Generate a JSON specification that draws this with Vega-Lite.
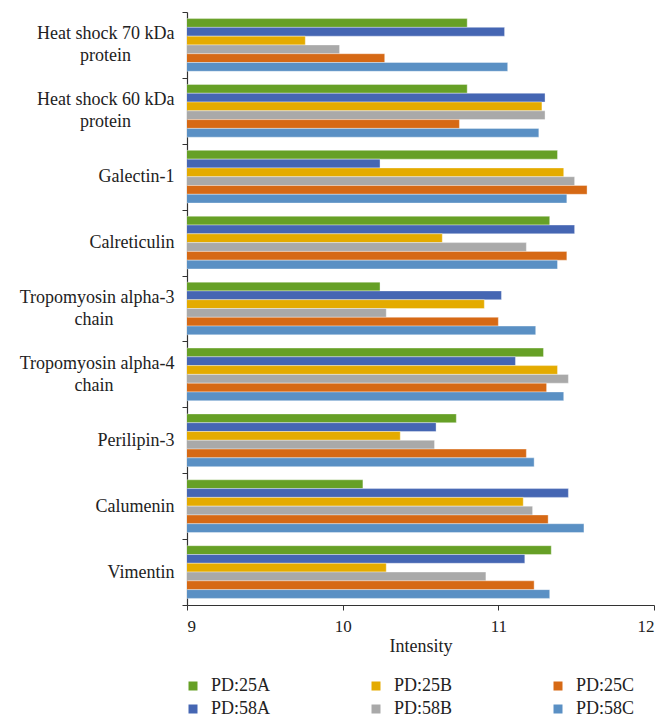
{
  "$schema": "https://vega.github.io/schema/vega-lite/v6.json",
  "width": 467,
  "height": 593,
  "autosize": {"type": "none"},
  "padding": {"left": 187, "top": 12, "right": 10, "bottom": 113},
  "background": "white",
  "config": {
    "view": {"stroke": null},
    "font": "Liberation Serif",
    "axis": {"labelFont": "Liberation Serif", "titleFont": "Liberation Serif", "labelColor": "#222", "titleColor": "#222", "domainColor": "#333", "tickColor": "#333"},
    "legend": {"labelFont": "Liberation Serif"}
  },
  "data": {
    "values": [
      {"protein": "Heat shock 70 kDa protein", "sample": "PD:25A", "value": 10.80},
      {"protein": "Heat shock 70 kDa protein", "sample": "PD:58A", "value": 11.04},
      {"protein": "Heat shock 70 kDa protein", "sample": "PD:25B", "value": 9.76},
      {"protein": "Heat shock 70 kDa protein", "sample": "PD:58B", "value": 9.98},
      {"protein": "Heat shock 70 kDa protein", "sample": "PD:25C", "value": 10.27},
      {"protein": "Heat shock 70 kDa protein", "sample": "PD:58C", "value": 11.06},
      {"protein": "Heat shock 60 kDa protein", "sample": "PD:25A", "value": 10.80},
      {"protein": "Heat shock 60 kDa protein", "sample": "PD:58A", "value": 11.30},
      {"protein": "Heat shock 60 kDa protein", "sample": "PD:25B", "value": 11.28},
      {"protein": "Heat shock 60 kDa protein", "sample": "PD:58B", "value": 11.30},
      {"protein": "Heat shock 60 kDa protein", "sample": "PD:25C", "value": 10.75},
      {"protein": "Heat shock 60 kDa protein", "sample": "PD:58C", "value": 11.26},
      {"protein": "Galectin-1", "sample": "PD:25A", "value": 11.38},
      {"protein": "Galectin-1", "sample": "PD:58A", "value": 10.24},
      {"protein": "Galectin-1", "sample": "PD:25B", "value": 11.42},
      {"protein": "Galectin-1", "sample": "PD:58B", "value": 11.49},
      {"protein": "Galectin-1", "sample": "PD:25C", "value": 11.57},
      {"protein": "Galectin-1", "sample": "PD:58C", "value": 11.44},
      {"protein": "Calreticulin", "sample": "PD:25A", "value": 11.33},
      {"protein": "Calreticulin", "sample": "PD:58A", "value": 11.49},
      {"protein": "Calreticulin", "sample": "PD:25B", "value": 10.64},
      {"protein": "Calreticulin", "sample": "PD:58B", "value": 11.18},
      {"protein": "Calreticulin", "sample": "PD:25C", "value": 11.44},
      {"protein": "Calreticulin", "sample": "PD:58C", "value": 11.38},
      {"protein": "Tropomyosin alpha-3 chain", "sample": "PD:25A", "value": 10.24},
      {"protein": "Tropomyosin alpha-3 chain", "sample": "PD:58A", "value": 11.02},
      {"protein": "Tropomyosin alpha-3 chain", "sample": "PD:25B", "value": 10.91},
      {"protein": "Tropomyosin alpha-3 chain", "sample": "PD:58B", "value": 10.28},
      {"protein": "Tropomyosin alpha-3 chain", "sample": "PD:25C", "value": 11.00},
      {"protein": "Tropomyosin alpha-3 chain", "sample": "PD:58C", "value": 11.24},
      {"protein": "Tropomyosin alpha-4 chain", "sample": "PD:25A", "value": 11.29},
      {"protein": "Tropomyosin alpha-4 chain", "sample": "PD:58A", "value": 11.11},
      {"protein": "Tropomyosin alpha-4 chain", "sample": "PD:25B", "value": 11.38},
      {"protein": "Tropomyosin alpha-4 chain", "sample": "PD:58B", "value": 11.45},
      {"protein": "Tropomyosin alpha-4 chain", "sample": "PD:25C", "value": 11.31},
      {"protein": "Tropomyosin alpha-4 chain", "sample": "PD:58C", "value": 11.42},
      {"protein": "Perilipin-3", "sample": "PD:25A", "value": 10.73},
      {"protein": "Perilipin-3", "sample": "PD:58A", "value": 10.60},
      {"protein": "Perilipin-3", "sample": "PD:25B", "value": 10.37},
      {"protein": "Perilipin-3", "sample": "PD:58B", "value": 10.59},
      {"protein": "Perilipin-3", "sample": "PD:25C", "value": 11.18},
      {"protein": "Perilipin-3", "sample": "PD:58C", "value": 11.23},
      {"protein": "Calumenin", "sample": "PD:25A", "value": 10.13},
      {"protein": "Calumenin", "sample": "PD:58A", "value": 11.45},
      {"protein": "Calumenin", "sample": "PD:25B", "value": 11.16},
      {"protein": "Calumenin", "sample": "PD:58B", "value": 11.22},
      {"protein": "Calumenin", "sample": "PD:25C", "value": 11.32},
      {"protein": "Calumenin", "sample": "PD:58C", "value": 11.55},
      {"protein": "Vimentin", "sample": "PD:25A", "value": 11.34},
      {"protein": "Vimentin", "sample": "PD:58A", "value": 11.17},
      {"protein": "Vimentin", "sample": "PD:25B", "value": 10.28},
      {"protein": "Vimentin", "sample": "PD:58B", "value": 10.92},
      {"protein": "Vimentin", "sample": "PD:25C", "value": 11.23},
      {"protein": "Vimentin", "sample": "PD:58C", "value": 11.33}
    ]
  },
  "mark": {"type": "bar", "clip": true, "stroke": "white", "strokeWidth": 0.6, "strokeOpacity": 0.6},
  "encoding": {
    "y": {
      "field": "protein",
      "type": "nominal",
      "sort": ["Heat shock 70 kDa protein", "Heat shock 60 kDa protein", "Galectin-1", "Calreticulin", "Tropomyosin alpha-3 chain", "Tropomyosin alpha-4 chain", "Perilipin-3", "Calumenin", "Vimentin"],
      "scale": {"paddingInner": 0, "paddingOuter": 0},
      "axis": {
        "title": null,
        "tickBand": "extent",
        "tickSize": 5,
        "labelPadding": 8,
        "labelFontSize": 18,
        "labelLineHeight": 11,
        "labelOffset": -11,
        "labelLimit": 300,
        "domainWidth": 1.2,
        "labelExpr": "datum.label == 'Heat shock 70 kDa protein' ? ['Heat shock 70 kDa', '\u2800', 'protein \u2800\u2800\u2800'] : datum.label == 'Heat shock 60 kDa protein' ? ['Heat shock 60 kDa', '\u2800', 'protein \u2800\u2800\u2800'] : datum.label == 'Tropomyosin alpha-3 chain' ? ['Tropomyosin alpha-3', '\u2800', 'chain \u2800 \u2800\u2800\u2800'] : datum.label == 'Tropomyosin alpha-4 chain' ? ['Tropomyosin alpha-4', '\u2800', 'chain \u2800 \u2800\u2800\u2800'] : ['\u2800', datum.label]"
      }
    },
    "yOffset": {
      "field": "sample",
      "type": "nominal",
      "sort": ["PD:25A", "PD:58A", "PD:25B", "PD:58B", "PD:25C", "PD:58C"],
      "scale": {"paddingInner": 0, "paddingOuter": 0.75}
    },
    "x": {
      "field": "value",
      "type": "quantitative",
      "scale": {"domain": [9, 12], "zero": false, "nice": false},
      "axis": {
        "title": "Intensity",
        "values": [9, 10, 11, 12],
        "grid": false,
        "tickSize": 5,
        "labelFontSize": 17,
        "titleFontSize": 18,
        "titleFontWeight": "normal",
        "labelPadding": 8,
        "titlePadding": 3,
        "domainWidth": 1.2
      }
    },
    "color": {
      "field": "sample",
      "type": "nominal",
      "scale": {
        "domain": ["PD:25A", "PD:25B", "PD:25C", "PD:58A", "PD:58B", "PD:58C"],
        "range": ["#66A026", "#E4AB00", "#D66915", "#4566B3", "#A9A9A9", "#5A90C4"]
      },
      "legend": {
        "title": null,
        "orient": "none",
        "legendX": -3,
        "legendY": 665,
        "direction": "horizontal",
        "columns": 3,
        "columnPadding": 96,
        "rowPadding": 5,
        "symbolType": "square",
        "symbolSize": 81,
        "symbolStrokeWidth": 0,
        "labelFontSize": 18,
        "labelOffset": 9,
        "labelColor": "#222"
      }
    }
  }
}
